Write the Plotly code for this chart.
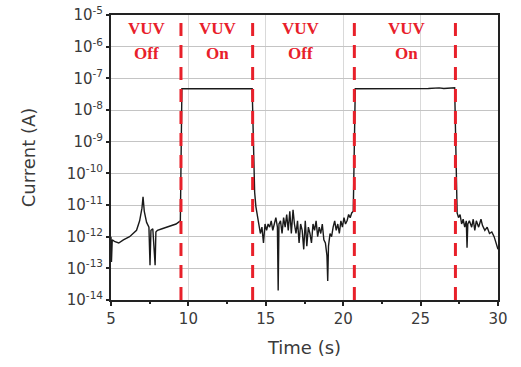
import plotly.graph_objects as go

# --- data (log10 of current in A) ---
off1_t = [5.0, 5.03, 5.08, 5.26, 5.5, 5.8, 6.2, 6.45, 6.65, 6.85, 7.0, 7.07, 7.15, 7.3, 7.45, 7.52, 7.58, 7.7, 7.85, 7.9, 8.0, 8.3, 8.6, 8.9, 9.2, 9.48]
off1_v = [-12.0, -12.8, -12.1, -12.16, -12.2, -12.1, -12.0, -11.9, -11.8, -11.5, -11.1, -10.74, -11.2, -11.55, -11.7, -12.9, -11.8, -11.75, -12.9, -11.85, -11.8, -11.75, -11.7, -11.65, -11.6, -11.5]

on1_t = [9.58, 10.5, 11.5, 12.5, 13.5, 14.12]
on1_v = [-7.33, -7.33, -7.33, -7.33, -7.33, -7.33]

off2_t = [14.2, 14.28, 14.36, 14.45, 14.55, 14.65, 14.75, 14.85, 14.95, 15.05, 15.15, 15.25, 15.35, 15.45, 15.55, 15.65, 15.75, 15.8, 15.85, 15.95, 16.05, 16.15, 16.25, 16.35, 16.45, 16.55, 16.65, 16.76, 16.85, 16.95, 17.05, 17.15, 17.25, 17.35, 17.45, 17.55, 17.65, 17.75, 17.85, 17.95, 18.05, 18.15, 18.25, 18.35, 18.45, 18.55, 18.65, 18.75, 18.85, 18.95, 19.0, 19.05, 19.15, 19.25, 19.35, 19.45, 19.55, 19.65, 19.75, 19.85, 19.95, 20.05, 20.15, 20.25, 20.35, 20.45, 20.55, 20.65]
off2_v = [-9.0, -10.6, -11.05, -11.3, -11.6, -11.9, -11.7, -12.2, -11.6, -11.8, -11.6, -11.7, -11.5, -11.8, -11.6, -11.4, -11.7, -13.7, -11.6, -11.5, -11.9, -11.4, -11.7, -11.3, -11.8, -11.2, -11.9, -11.15, -11.6, -11.9, -11.5, -12.2, -11.6, -11.8, -12.4, -11.5, -12.3, -11.7, -11.9, -12.2, -11.6, -11.8, -11.5, -12.0, -11.7, -11.9, -11.6, -12.1, -12.2, -12.6, -13.4, -12.3, -11.9, -12.0, -11.7, -11.5, -11.8, -11.6, -11.9, -11.5, -11.7, -11.4, -11.6, -11.5, -11.3, -11.4, -11.25, -11.2]

on2_t = [20.78, 21.5, 22.5, 23.5, 24.5, 25.5, 26.2, 26.5, 27.2]
on2_v = [-7.33, -7.33, -7.32, -7.32, -7.32, -7.32, -7.3, -7.32, -7.3]

off3_t = [27.28, 27.36, 27.45, 27.55, 27.65, 27.75, 27.85, 27.95, 28.0, 28.05, 28.15, 28.3, 28.4, 28.5, 28.6, 28.75, 28.9, 29.0, 29.15, 29.3, 29.45, 29.6, 29.75, 29.9, 30.0]
off3_v = [-9.5, -11.25, -11.4, -11.3, -11.6, -11.45, -11.7, -11.5, -12.35, -11.6, -11.5, -11.7, -11.45, -11.8, -11.5, -11.7, -11.45, -11.65, -11.8, -11.7, -11.9, -11.85, -12.0, -12.2, -12.4]

switch_times = [9.52, 14.15, 20.72, 27.25]
label_x = [7.3, 11.9, 17.25, 24.1]
label_top = ["VUV", "VUV", "VUV", "VUV"]
label_bot = ["Off", "On", "Off", "On"]

y_tickvals = [-14, -13, -12, -11, -10, -9, -8, -7, -6, -5]
y_ticktext = ["10<sup>-%d</sup>" % (-v) for v in y_tickvals]
x_tickvals = [5, 10, 15, 20, 25, 30]
x_minor = [7.5, 12.5, 17.5, 22.5, 27.5]

t = off1_t + on1_t + off2_t + on2_t + off3_t
lv = off1_v + on1_v + off2_v + on2_v + off3_v
cur = [10 ** v for v in lv]

fig = go.Figure()
fig.add_trace(go.Scatter(x=t, y=cur, mode="lines",
                         line=dict(color="#1a1a1a", width=1.4), showlegend=False))

shapes = []
for s in switch_times:
    shapes.append(dict(type="line", xref="x", yref="paper", x0=s, x1=s, y0=0, y1=1,
                       line=dict(color="#e8202a", width=3, dash="13px,9px"), layer="above"))
fig.update_layout(shapes=shapes)

for xx, a, b in zip(label_x, label_top, label_bot):
    fig.add_annotation(x=xx, y=-5.42, xref="x", yref="y", text="<b>%s</b>" % a, showarrow=False,
                       font=dict(family="Liberation Serif", size=17, color="#e8202a"))
    fig.add_annotation(x=xx, y=-6.2, xref="x", yref="y", text="<b>%s</b>" % b, showarrow=False,
                       font=dict(family="Liberation Serif", size=17, color="#e8202a"))

fig.update_layout(
    width=521, height=367,
    margin=dict(l=111, r=23, t=15, b=67, autoexpand=False),
    paper_bgcolor="white", plot_bgcolor="white",
    font=dict(family="DejaVu Sans", size=15, color="#3a3a3a"),
    xaxis=dict(range=[5, 30], tickvals=x_tickvals, showgrid=True, gridcolor="#d9d9d9", gridwidth=1,
               showline=True, linecolor="#222222", linewidth=2, mirror=True,
               ticks="outside", ticklen=4, tickcolor="#222222", tickwidth=1.5,
               minor=dict(tickvals=x_minor, ticks="outside", ticklen=2, tickcolor="#222222", showgrid=False),
               title=dict(text="Time (s)", font=dict(size=18), standoff=14), zeroline=False, automargin=False),
    yaxis=dict(type="log", range=[-14, -5], tickvals=[10 ** v for v in y_tickvals], ticktext=y_ticktext,
               showgrid=True, gridcolor="#c4c4c4", gridwidth=1,
               showline=True, linecolor="#222222", linewidth=2, mirror=True,
               ticks="outside", ticklen=3, tickcolor="#222222", tickwidth=1.5,
               title=dict(text="Current (A)", font=dict(size=18), standoff=26), zeroline=False, automargin=False),
)

fig.write_html("out.html", config={"displayModeBar": False},
               post_script="document.body.style.margin='0';document.body.style.overflow='hidden';")
